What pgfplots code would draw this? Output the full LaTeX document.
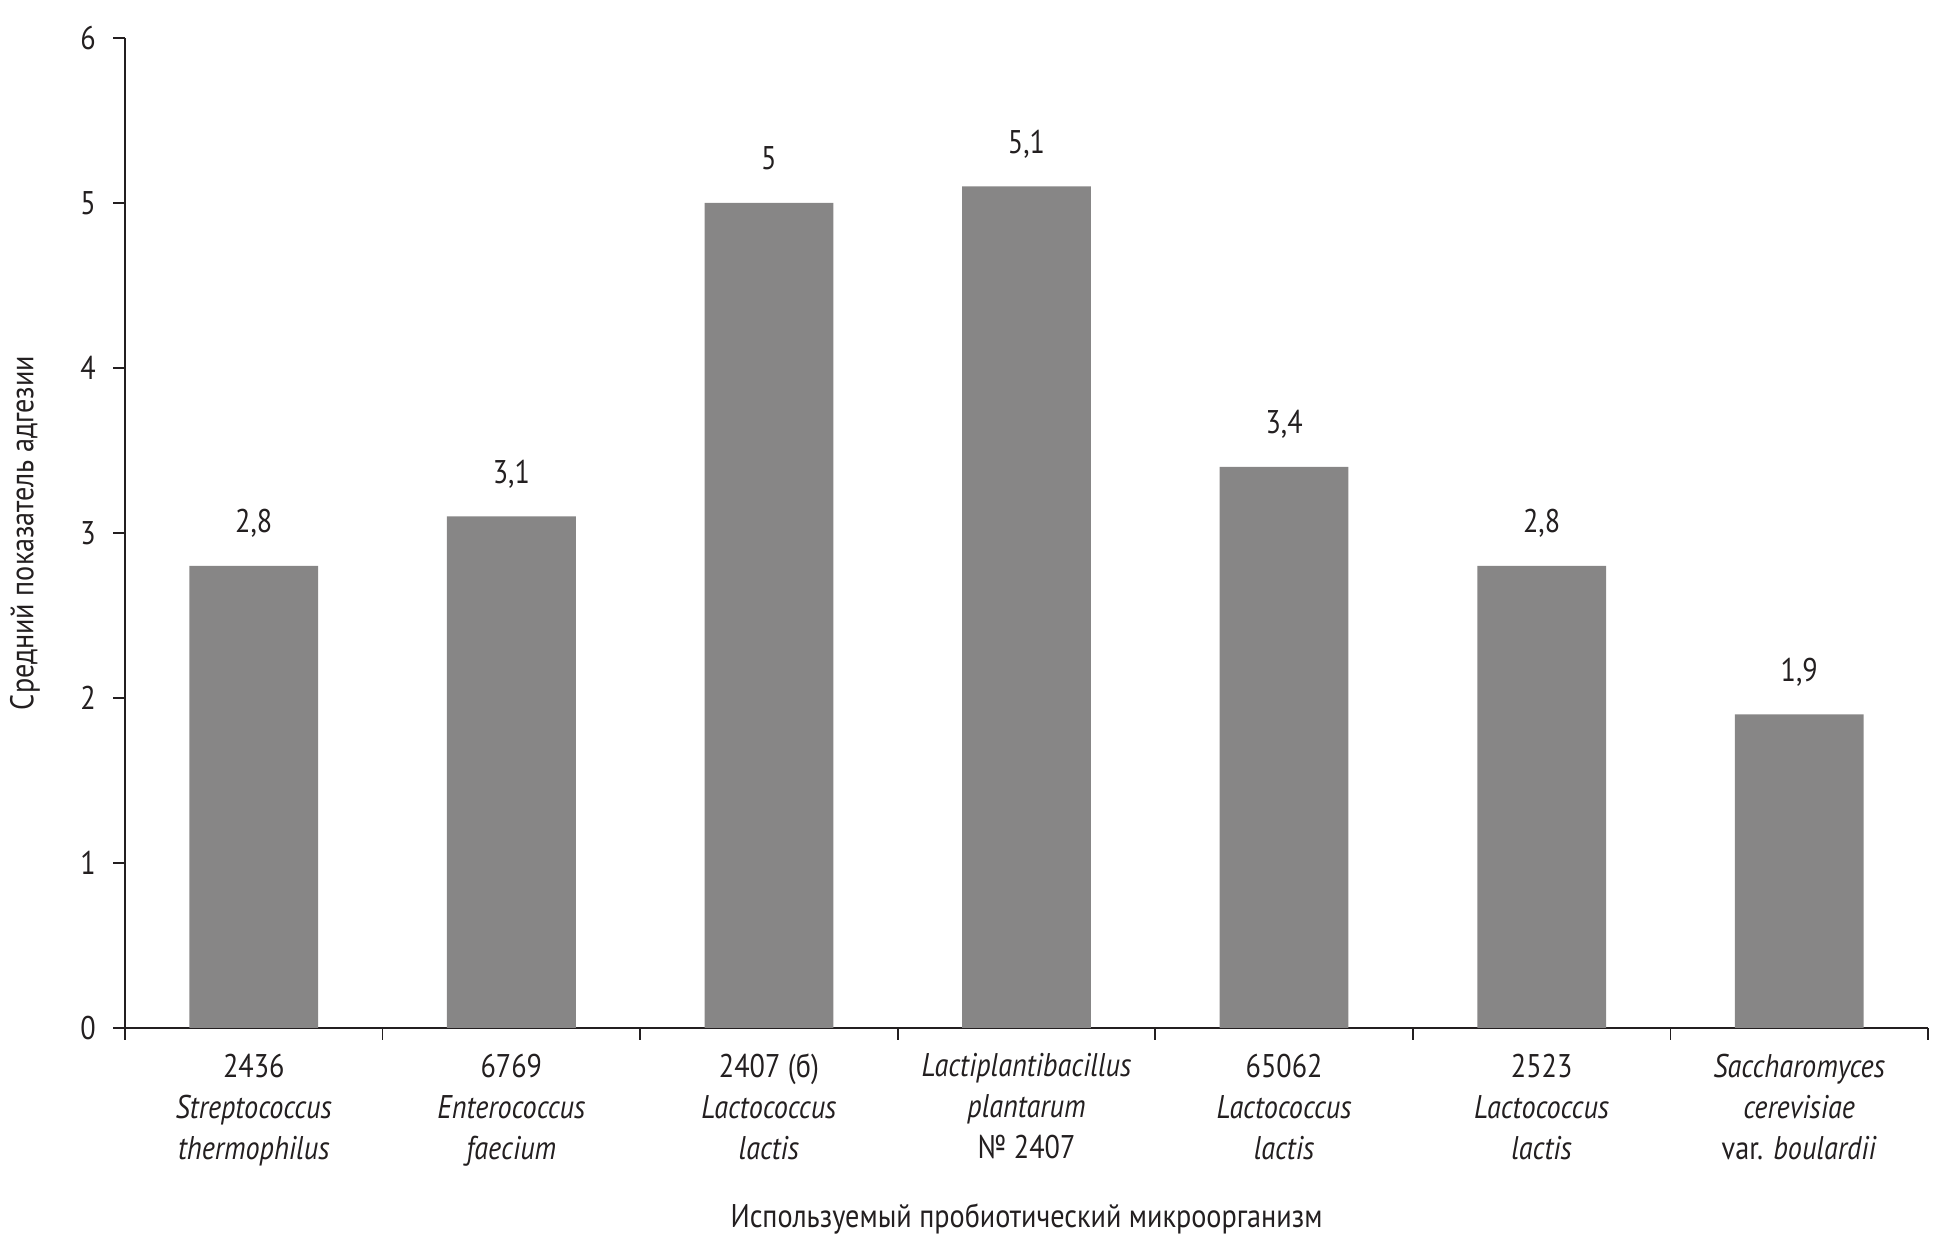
\documentclass[border=0pt]{standalone}
\usepackage{fontspec}
\setmainfont{PT Sans}[FakeStretch=0.86]
\usepackage{pgfplots}
\pgfplotsset{compat=1.18}
\definecolor{barc}{HTML}{878686}
\definecolor{axc}{HTML}{231F20}
\begin{document}
\fontsize{8.2}{10.25}\selectfont
\begin{tikzpicture}
\begin{axis}[
  scale only axis, width=450.75pt, height=247.5pt,
  xmin=-0.5, xmax=6.5, ymin=0, ymax=6,
  axis lines*=left,
  axis line style={axc, line width=0.5pt},
  every tick/.style={axc, line width=0.4pt},
  tick align=outside,
  major tick length=2.9pt,
  ytick={0,1,2,3,4,5,6},
  yticklabel style={font=\fontsize{8.2}{10.25}\selectfont, text=axc, xshift=-1.5pt},
  xtick={-0.5,0.5,1.5,2.5,3.5,4.5,5.5,6.5},
  xticklabels={},
  extra x ticks={0,1,2,3,4,5,6},
  extra x tick labels={
    {2436\\\textit{Streptococcus}\\\textit{thermophilus}},
    {6769\\\textit{Enterococcus}\\\textit{faecium}},
    {2407 (б)\\\textit{Lactococcus}\\\textit{lactis}},
    {\textit{Lactiplantibacillus}\\\textit{plantarum}\\№ 2407},
    {65062\\\textit{Lactococcus}\\\textit{lactis}},
    {2523\\\textit{Lactococcus}\\\textit{lactis}},
    {\textit{Saccharomyces}\\\textit{cerevisiae}\\var. \textit{boulardii}}},
  extra x tick style={major tick length=0pt,
    xticklabel style={align=center, font=\fontsize{8.2}{10.25}\selectfont, text=axc, yshift=-3.5pt}},
  /pgf/number format/assume math mode=true,
  /pgf/number format/use comma,
  ylabel={Средний показатель адгезии},
  ylabel style={at={(rel axis cs:0,0.5)}, anchor=center, yshift=25pt, font=\fontsize{8.2}{10.25}\selectfont, text=axc},
  xlabel={Используемый пробиотический микроорганизм},
  xlabel style={at={(rel axis cs:0.5,0)}, anchor=center, yshift=-47.75pt, font=\fontsize{8.2}{10.25}\selectfont, text=axc},
  ybar, bar width=0.5,
  nodes near coords,
  every node near coord/.append style={anchor=base, yshift=8.3pt, text=axc, font=\fontsize{8.2}{10.25}\selectfont},
]
\addplot[fill=barc, draw=none] coordinates {(0,2.8) (1,3.1) (2,5) (3,5.1) (4,3.4) (5,2.8) (6,1.9)};
\coordinate (O) at (rel axis cs:0,0);
\coordinate (T) at (rel axis cs:1,1);
\end{axis}
\pgfresetboundingbox
\path[use as bounding box] ([xshift=-31.25pt,yshift=-57.5pt]O) rectangle ([xshift=4.5pt,yshift=9.5pt]T);
\end{tikzpicture}
\end{document}
